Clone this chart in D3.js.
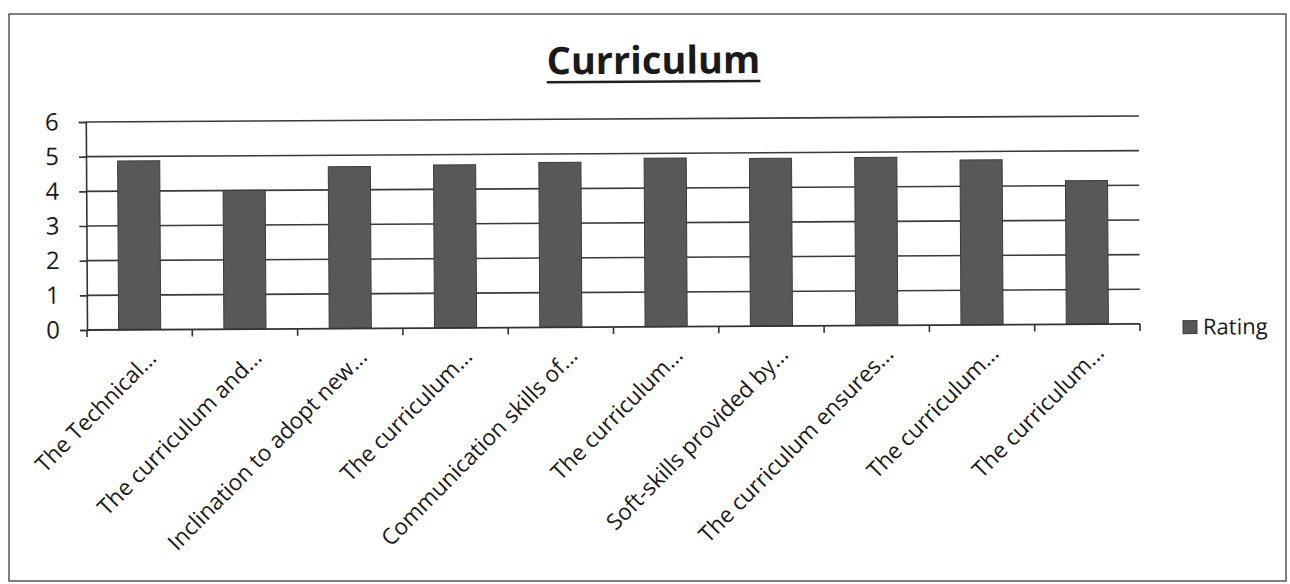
<!DOCTYPE html>
<html>
<head>
<meta charset="utf-8">
<script src="https://cdn.jsdelivr.net/npm/d3@7/dist/d3.min.js"></script>
<style>
  body { margin: 0; background: #fff; }
  text { font-family: 'Open Sans', sans-serif; fill: #1a1a1a; }
</style>
</head>
<body>
<script>
const categories = [
  'The Technical...',
  'The curriculum and...',
  'Inclination to adopt new...',
  'The curriculum...',
  'Communication skills of...',
  'The curriculum...',
  'Soft-skills provided by...',
  'The curriculum ensures...',
  'The curriculum...',
  'The curriculum...'
];
const ratings = [4.87, 4.0, 4.67, 4.7, 4.76, 4.86, 4.84, 4.85, 4.76, 4.14];
const yTicks = [0, 1, 2, 3, 4, 5, 6];
const seriesName = 'Rating';
const title = 'Curriculum';

const width = 1290;
const height = 584;
const plot = { left: 87, right: 1140, top: 122, bottom: 330 };

const svg = d3.select('body')
  .append('svg')
  .attr('width', width)
  .attr('height', height);

// scanned frame
svg.append('rect')
  .attr('x', 9).attr('y', 14)
  .attr('width', 1277).attr('height', 567)
  .attr('fill', 'none')
  .attr('stroke', '#555')
  .attr('stroke-width', 1.5);

// the scan is tilted a little, so rotate the chart body
const g = svg.append('g')
  .attr('transform', `rotate(-0.33, ${plot.left}, ${plot.bottom})`);

const x = d3.scaleBand()
  .domain(d3.range(categories.length))
  .range([plot.left, plot.right])
  .paddingInner(0.6)
  .paddingOuter(0.3);

const y = d3.scaleLinear()
  .domain([0, 6])
  .range([plot.bottom, plot.top]);

// title
const titleText = g.append('text')
  .attr('x', 655)
  .attr('y', 77)
  .attr('text-anchor', 'middle')
  .style('font-size', '38px')
  .style('font-weight', 'bold')
  .text(title);

const tb = titleText.node().getBBox();
g.append('line')
  .attr('x1', tb.x).attr('x2', tb.x + tb.width)
  .attr('y1', 85).attr('y2', 85)
  .attr('stroke', '#222')
  .attr('stroke-width', 2.5);

// gridlines
g.append('g')
  .selectAll('line')
  .data(yTicks.slice(1)).enter()
  .append('line')
  .attr('x1', plot.left).attr('x2', plot.right)
  .attr('y1', d => y(d)).attr('y2', d => y(d))
  .attr('stroke', '#3a3a3a')
  .attr('stroke-width', 1.6);

// bars
g.append('g')
  .selectAll('rect')
  .data(ratings).enter()
  .append('rect')
  .attr('x', (d, i) => x(i))
  .attr('y', d => y(d))
  .attr('width', x.bandwidth())
  .attr('height', d => y(0) - y(d))
  .attr('fill', '#585858')
  .attr('stroke', '#3c3c3c')
  .attr('stroke-width', 1);

// y axis
const yAxis = g.append('g')
  .attr('transform', `translate(${plot.left},0)`)
  .call(d3.axisLeft(y).tickValues(yTicks).tickSize(7).tickPadding(20).tickFormat(d3.format('d')));
yAxis.select('.domain').attr('stroke', '#333').attr('stroke-width', 1.6);
yAxis.selectAll('.tick line').attr('stroke', '#333').attr('stroke-width', 1.6);
yAxis.selectAll('.tick text')
  .style('font-size', '24px')
  .style('font-family', "'Open Sans', sans-serif")
  .attr('fill', '#1a1a1a');

// x axis: boundary ticks
const bounds = d3.range(categories.length + 1).map(i => plot.left + i * (plot.right - plot.left) / categories.length);
g.append('line')
  .attr('x1', plot.left).attr('x2', plot.right)
  .attr('y1', y(0)).attr('y2', y(0))
  .attr('stroke', '#333')
  .attr('stroke-width', 1.8);
g.append('g')
  .selectAll('line')
  .data(bounds).enter()
  .append('line')
  .attr('x1', d => d).attr('x2', d => d)
  .attr('y1', y(0)).attr('y2', y(0) + 7)
  .attr('stroke', '#333')
  .attr('stroke-width', 1.6);

// rotated category labels
g.append('g')
  .selectAll('text')
  .data(categories).enter()
  .append('text')
  .attr('transform', (d, i) => `translate(${x(i) + x.bandwidth() / 2 + 6},${y(0) + 18}) rotate(-45)`)
  .attr('text-anchor', 'end')
  .attr('dy', '0.75em')
  .style('font-size', '22.5px')
  .text(d => d);

// legend
const legend = g.append('g')
  .attr('transform', 'translate(1183,327)');
legend.append('rect')
  .attr('width', 14).attr('height', 13)
  .attr('fill', '#585858')
  .attr('stroke', '#3c3c3c');
legend.append('text')
  .attr('x', 20)
  .attr('y', 14)
  .style('font-size', '22px')
  .text(seriesName);
</script>
</body>
</html>
